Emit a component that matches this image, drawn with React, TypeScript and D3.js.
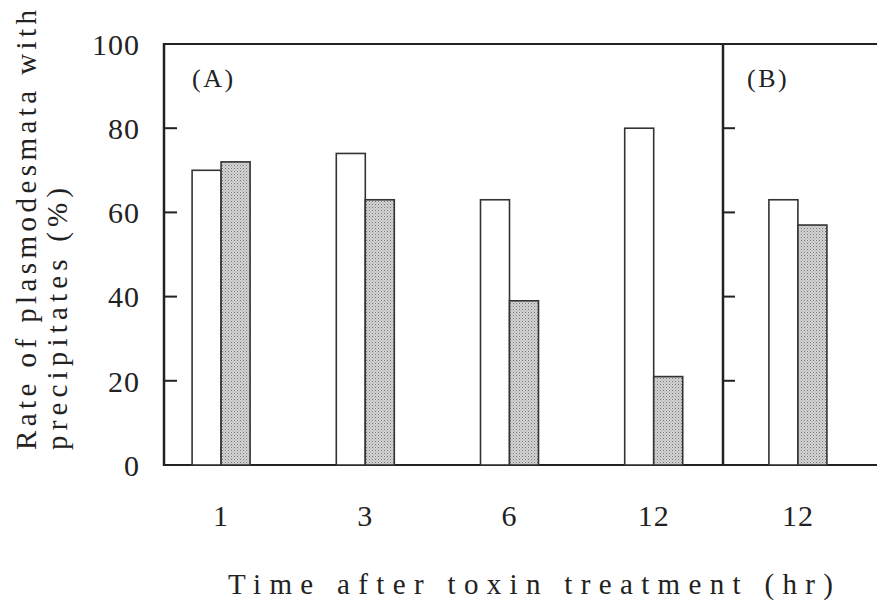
import React from "react";
import * as d3 from "d3";

// values
const groupIds = ["1", "3", "6", "12A", "12B"];
const timeLabels = ["1", "3", "6", "12", "12"];
const controlValues = [70, 74, 63, 80, 63];
const treatedValues = [72, 63, 39, 21, 57];
const yTicks = [0, 20, 40, 60, 80, 100];
const innerTicks = [20, 40, 60, 80];
const series = ["control", "treated"];

const W = 877, H = 605;
const left = 164, top = 44, bottom = 465, divider = 723;
const serifFont = "'Liberation Serif', 'DejaVu Serif', serif";

const App = () => {
    const y = d3.scaleLinear().domain([0, 100]).range([bottom, top]);
    const x0 = d3.scaleBand().domain(groupIds).range([149, 870]).padding(0);
    const pairW = 58;
    const x1 = d3.scaleBand().domain(series).range([0, pairW]).padding(0);

    const bars = groupIds.flatMap((g, i) => [
        { g, s: "control", v: controlValues[i] },
        { g, s: "treated", v: treatedValues[i] },
    ]);

    return (
        <svg width={W} height={H} style={{ position: "absolute", left: 0, top: 0, background: "#fff" }}>
            <defs>
                <pattern id="dots" width="3" height="3" patternUnits="userSpaceOnUse">
                    <rect width="3" height="3" fill="#d4d4d4" />
                    <rect x="0" y="0" width="1" height="1" fill="#777" />
                    <rect x="1.5" y="1.5" width="1" height="1" fill="#999" />
                </pattern>
            </defs>

            {/* frame */}
            <line x1={left} x2={W} y1={top} y2={top} stroke="#222" strokeWidth={2} />
            <line x1={left} x2={W} y1={bottom} y2={bottom} stroke="#222" strokeWidth={2} />
            <line x1={left} x2={left} y1={top - 1} y2={bottom + 1} stroke="#222" strokeWidth={2.5} />
            <line x1={divider} x2={divider} y1={top - 1} y2={bottom + 1} stroke="#222" strokeWidth={2.5} />

            {/* inward ticks */}
            {innerTicks.map(t => (
                <g key={t}>
                    <line x1={left} x2={left + 13} y1={y(t)} y2={y(t)} stroke="#222" strokeWidth={2} />
                    <line x1={divider} x2={divider + 12} y1={y(t)} y2={y(t)} stroke="#222" strokeWidth={2} />
                </g>
            ))}

            {/* y tick labels */}
            {yTicks.map(t => (
                <text key={t} x={140} y={y(t)} dy="0.36em" textAnchor="end"
                    fontFamily={serifFont} fontSize={30} letterSpacing={1} fill="#222">{t}</text>
            ))}

            {/* bars */}
            {bars.map((d, i) => {
                const bx = x0(d.g)! + x0.bandwidth() / 2 - pairW / 2 + x1(d.s)!;
                return (
                    <rect key={i} x={bx} y={y(d.v)} width={x1.bandwidth()} height={y(0) - y(d.v)}
                        fill={d.s === "control" ? "#fff" : "url(#dots)"} stroke="#333" strokeWidth={1.6} />
                );
            })}

            {/* x tick labels */}
            {groupIds.map((g, i) => (
                <text key={g} x={x0(g)! + x0.bandwidth() / 2} y={526} textAnchor="middle"
                    fontFamily={serifFont} fontSize={30} letterSpacing={1} fill="#222">{timeLabels[i]}</text>
            ))}

            {/* panel labels */}
            <text x={192} y={87} fontFamily={serifFont} fontSize={26} letterSpacing={2.5} fill="#222">(A)</text>
            <text x={747} y={87} fontFamily={serifFont} fontSize={26} letterSpacing={2.5} fill="#222">(B)</text>

            {/* axis titles */}
            <text x={228} y={594} textLength={605} lengthAdjust="spacing" fontFamily={serifFont} fontSize={29}
                fill="#222">Time after toxin treatment (hr)</text>
            <g transform="translate(36,450) rotate(-90)">
                <text x={0} y={0} textLength={440} lengthAdjust="spacing" fontFamily={serifFont} fontSize={29}
                    fill="#222">Rate of plasmodesmata with</text>
                <text x={0} y={31} textLength={262} lengthAdjust="spacing" fontFamily={serifFont} fontSize={29}
                    fill="#222">precipitates (%)</text>
            </g>
        </svg>
    );
};

export default App;
